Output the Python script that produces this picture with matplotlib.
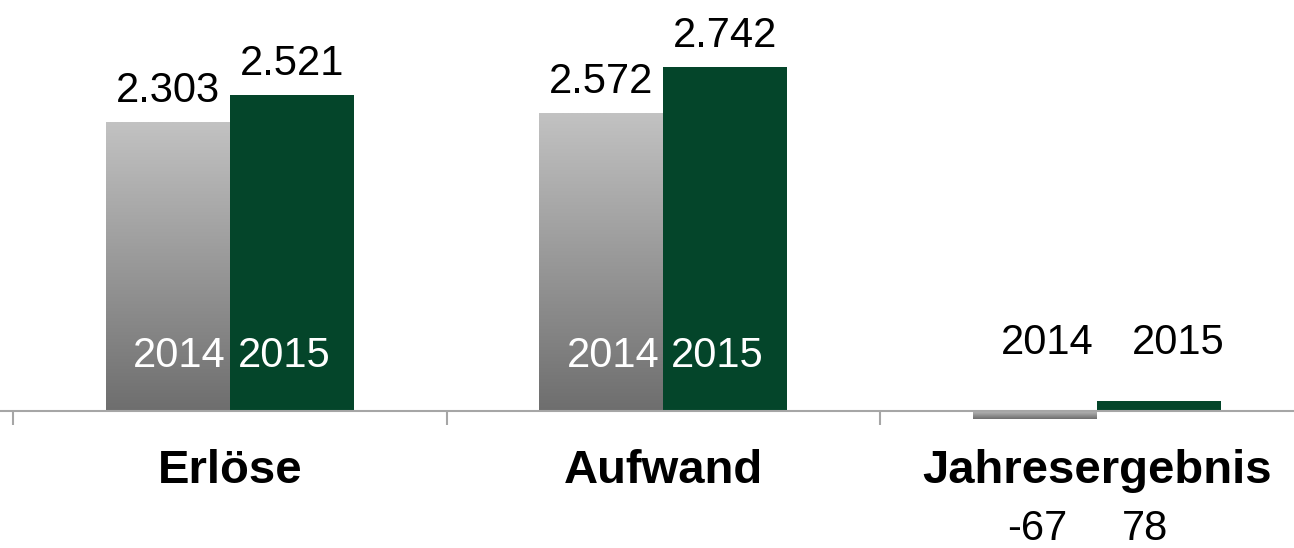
import matplotlib
matplotlib.use('Agg')
import matplotlib.pyplot as plt
import numpy as np
from matplotlib.colors import LinearSegmentedColormap

# data
categories = ['Erlöse', 'Aufwand', 'Jahresergebnis']
years = ['2014', '2015']
values_2014 = [2303, 2572, -67]        # printed labels
values_2015 = [2521, 2742, 78]
# bar heights as drawn in the source chart (Aufwand 2014 bar is drawn lower than its label)
heights_2014 = [2303, 2375, -67]
heights_2015 = [2521, 2742, 78]

plt.rcParams['font.family'] = ['Liberation Sans', 'DejaVu Sans']

GREEN = '#04452a'
AXIS = '#a6a6a6'
PT = 0.72  # points per pixel at dpi 100


def fmt(v):
    return f'{v:,}'.replace(',', '.')


fig = plt.figure(figsize=(12.94, 5.48), dpi=100)
ax = fig.add_axes([0, 0, 1, 1])

x = np.arange(len(categories))
w = 0.286
bars14 = ax.bar(x - w / 2, heights_2014, w, facecolor='none', edgecolor='none', zorder=2)
bars15 = ax.bar(x + w / 2, heights_2015, w, color=GREEN, zorder=2)

# grey gradient fill for 2014 bars
cmap = LinearSegmentedColormap.from_list('grey', ['#6e6e6e', '#c2c2c2'])
grad = np.linspace(0, 1, 256).reshape(-1, 1)
for b in bars14:
    x0, y0, bw, bh = b.get_x(), b.get_y(), b.get_width(), b.get_height()
    lo, hi = min(y0, y0 + bh), max(y0, y0 + bh)
    im = ax.imshow(grad, cmap=cmap, aspect='auto', origin='lower',
                   extent=(x0, x0 + bw, lo, hi), zorder=2)
    im.set_clip_path(b)

for s in ['top', 'right', 'left']:
    ax.spines[s].set_visible(False)
ax.spines['bottom'].set_position(('data', 0))
ax.spines['bottom'].set_color(AXIS)
ax.spines['bottom'].set_linewidth(1.5)
ax.set_yticks([])
ax.set_xticks(x)
ax.set_xticklabels([])
ax.tick_params(axis='x', which='major', length=0)
ax.set_xticks(np.append(x - 0.5, x[-1] + 0.5), minor=True)
ax.tick_params(axis='x', which='minor', length=10, width=1.5, color=AXIS, direction='out')

# axis scaling: 433.5 px per category, ~7.97 units per px (set after ticks)
px_cat = 433.5
ax.set_xlim(-0.5 - 13 / px_cat, -0.5 + (1294 - 13) / px_cat)
upp = 7.97
ax.set_ylim(-(548 - 411) * upp, 411 * upp)

# category labels
for i, cat in enumerate(categories):
    ax.annotate(cat, xy=(x[i], 0), xytext=(0, -72 * PT), textcoords='offset points',
                ha='center', va='baseline', fontsize=34, fontweight='bold')

# values and year labels
for i in range(len(categories)):
    v14, v15 = values_2014[i], values_2015[i]
    h14, h15 = heights_2014[i], heights_2015[i]
    if v14 > 500:
        ax.annotate(fmt(v14), xy=(x[i] - w / 2, h14), xytext=(0, 20 * PT),
                    textcoords='offset points', ha='center', va='baseline', fontsize=30)
        ax.annotate(fmt(v15), xy=(x[i] + w / 2, h15), xytext=(0, 20 * PT),
                    textcoords='offset points', ha='center', va='baseline', fontsize=30)
        ax.annotate(years[0], xy=(x[i], 0), xytext=(-4 * PT, 44 * PT),
                    textcoords='offset points', ha='right', va='baseline',
                    fontsize=30, color='white', zorder=3)
        ax.annotate(years[1], xy=(x[i], 0), xytext=(8 * PT, 44 * PT),
                    textcoords='offset points', ha='left', va='baseline',
                    fontsize=30, color='white', zorder=3)
    else:
        ax.annotate(years[0], xy=(x[i] - w / 2, 0), xytext=(12 * PT, 57 * PT),
                    textcoords='offset points', ha='center', va='baseline', fontsize=30)
        ax.annotate(years[1], xy=(x[i] + w / 2, 0), xytext=(20 * PT, 57 * PT),
                    textcoords='offset points', ha='center', va='baseline', fontsize=30)
        ax.annotate(fmt(v14), xy=(x[i] - w / 2, 0), xytext=(2 * PT, -129 * PT),
                    textcoords='offset points', ha='center', va='baseline', fontsize=30)
        ax.annotate(fmt(v15), xy=(x[i] + w / 2, 0), xytext=(-14 * PT, -129 * PT),
                    textcoords='offset points', ha='center', va='baseline', fontsize=30)

fig.savefig('out.png', dpi=100)
